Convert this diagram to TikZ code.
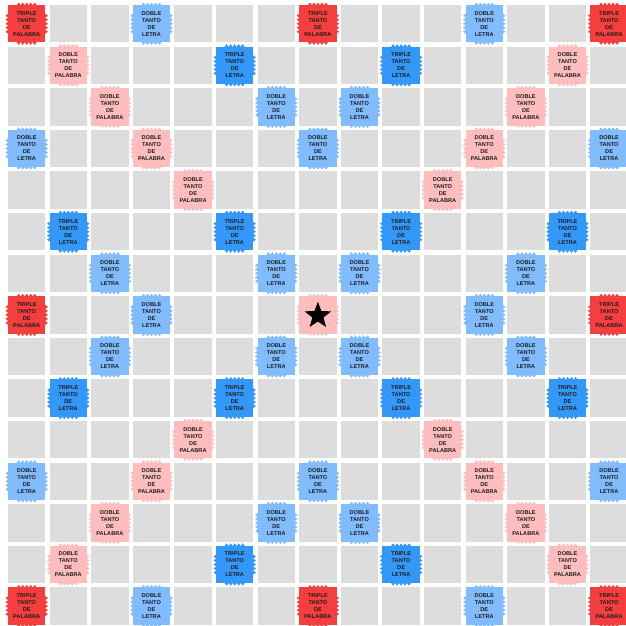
\documentclass[tikz,border=0pt]{standalone}
\usepackage{fontspec}
\setmainfont{Liberation Sans}
\usetikzlibrary{shapes.geometric}
\definecolor{cellgrey}{RGB}{221,221,221}
\definecolor{twred}{RGB}{245,62,62}
\definecolor{dwpink}{RGB}{255,189,189}
\definecolor{tlblue}{RGB}{52,152,250}
\definecolor{dlblue}{RGB}{128,188,255}
\definecolor{txt}{RGB}{30,30,30}
\tikzset{
  lbl/.style={font=\bfseries\fontsize{5.6}{7}\selectfont, align=center, text=txt, inner sep=0pt},
}
\newcommand\premsq[3]{%
  \begin{scope}[shift={({26.7+41.6*#1},{23.7+41.6*#2})}]
    \fill[#3] (-18.7,-18.7) rectangle (18.7,18.7);
    \foreach \t in {-8,-4,0,4,8}{
      \fill[#3] (\t-2,-18.5) -- (\t,-21.2) -- (\t+2,-18.5) -- cycle;
      \fill[#3] (\t-2,18.5) -- (\t,21.2) -- (\t+2,18.5) -- cycle;
      \fill[#3] (-18.5,\t-2) -- (-21.2,\t) -- (-18.5,\t+2) -- cycle;
      \fill[#3] (18.5,\t-2) -- (21.2,\t) -- (18.5,\t+2) -- cycle;
    }
  \end{scope}}
\begin{document}
\begin{tikzpicture}[x=1pt,y=-1pt]
\fill[white] (0,0) rectangle (626,625);
\useasboundingbox (0,0) rectangle (626,625);
\foreach \i in {0,...,14}{
  \foreach \j in {0,...,14}{
    \fill[cellgrey] ({8+41.6*\i},{5+41.6*\j}) rectangle ++(37.4,37.4);
  }
}
% triple word
\foreach \c/\r in {0/0,7/0,14/0,0/7,14/7,0/14,7/14,14/14}{
  \premsq{\c}{\r}{twred}
  \node[lbl] (tw-\c-\r) at ({26.7+41.6*\c},{23.7+41.6*\r}) {TRIPLE\\TANTO\\DE\\PALABRA};
}
% double word
\foreach \c/\r in {1/1,2/2,3/3,4/4,10/10,11/11,12/12,13/13,13/1,12/2,11/3,10/4,1/13,2/12,3/11,4/10}{
  \premsq{\c}{\r}{dwpink}
  \node[lbl] (dw-\c-\r) at ({26.7+41.6*\c},{23.7+41.6*\r}) {DOBLE\\TANTO\\DE\\PALABRA};
}
% triple letter
\foreach \c/\r in {5/1,9/1,1/5,5/5,9/5,13/5,1/9,5/9,9/9,13/9,5/13,9/13}{
  \premsq{\c}{\r}{tlblue}
  \node[lbl] (tl-\c-\r) at ({26.7+41.6*\c},{23.7+41.6*\r}) {TRIPLE\\TANTO\\DE\\LETRA};
}
% double letter
\foreach \c/\r in {3/0,11/0,6/2,8/2,0/3,7/3,14/3,2/6,6/6,8/6,12/6,3/7,11/7,2/8,6/8,8/8,12/8,0/11,7/11,14/11,6/12,8/12,3/14,11/14}{
  \premsq{\c}{\r}{dlblue}
  \node[lbl] (dl-\c-\r) at ({26.7+41.6*\c},{23.7+41.6*\r}) {DOBLE\\TANTO\\DE\\LETRA};
}
% centre
\premsq{7}{7}{dwpink}
\node[star, star points=5, star point ratio=2.4, fill=black, minimum size=28pt, inner sep=0pt] (centre) at ({26.7+41.6*7},{23.7+41.6*7+0.8}) {};
\end{tikzpicture}
\end{document}
